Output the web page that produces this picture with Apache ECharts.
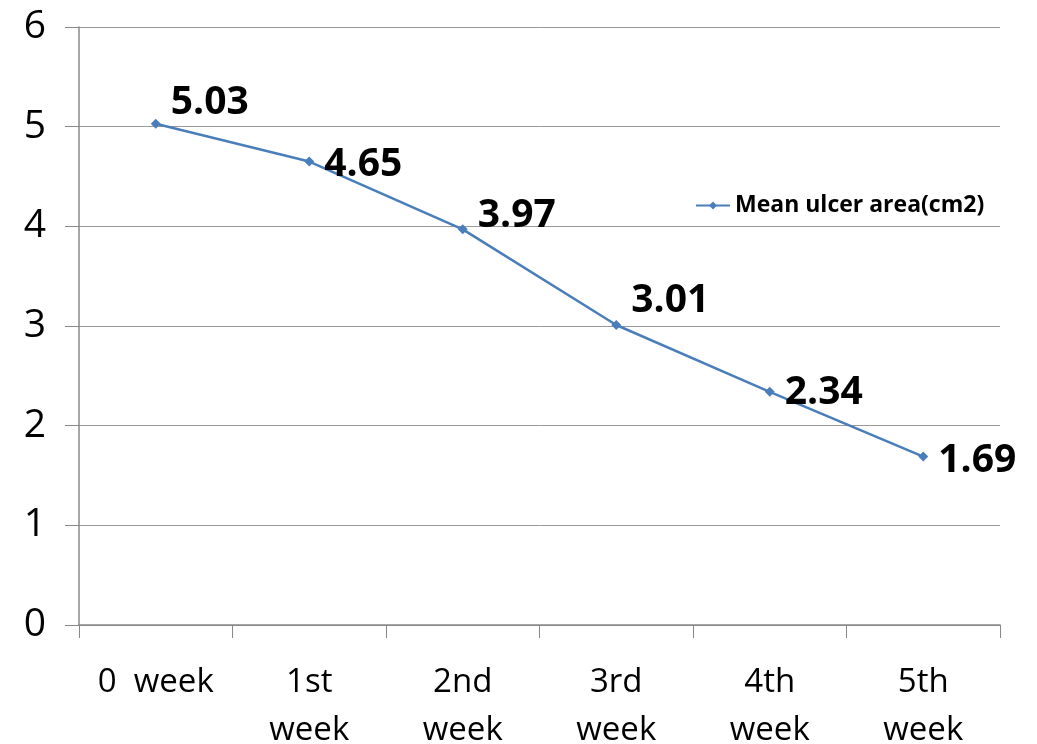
<!DOCTYPE html>
<html>
<head>
<meta charset="utf-8">
<style>
  html, body { margin: 0; padding: 0; background: #fff; }
  #main { width: 1037px; height: 744px; }
</style>
<script src="https://cdn.jsdelivr.net/npm/echarts@6/dist/echarts.min.js"></script>
</head>
<body>
<div id="main"></div>
<script>
const weeks = ['0  week', '1st\nweek', '2nd\nweek', '3rd\nweek', '4th\nweek', '5th\nweek']
const meanArea = [5.03, 4.65, 3.97, 3.01, 2.34, 1.69]
const yTicks = [0, 1, 2, 3, 4, 5, 6]

const chart = echarts.init(document.getElementById('main'))

// label offsets, roughly like the excel layout
const labelOffsets = [[-2, -21], [-2, 3], [-2, -13], [-2, -24], [-2, 1], [-2, 4]]

const option = {
  backgroundColor: '#fff',
  textStyle: { fontFamily: '"Open Sans", "Liberation Sans", sans-serif' },
  grid: { left: 79, right: 37, top: 27, bottom: 119, containLabel: false, outerBoundsMode: 'none' },
  legend: {
    data: ['Mean ulcer area(cm2)'],
    left: 690,
    top: 189,
    itemWidth: 34,
    itemHeight: 10,
    itemGap: 4,
    textStyle: { fontSize: 23, fontWeight: 'bold', color: '#000' },
  },
  xAxis: {
    type: 'category',
    data: weeks,
    boundaryGap: true,
    axisLine: { lineStyle: { color: '#888', width: 1.5 } },
    axisTick: { show: true, length: 13, lineStyle: { color: '#888' } },
    axisLabel: {
      interval: 0,
      margin: 34,
      fontSize: 33,
      lineHeight: 48,
      color: '#000',
    },
  },
  yAxis: {
    type: 'value',
    min: yTicks[0],
    max: yTicks[yTicks.length - 1],
    interval: 1,
    axisLine: { show: true, lineStyle: { color: '#888', width: 1.5 } },
    axisTick: { show: true, length: 14, lineStyle: { color: '#888' } },
    axisLabel: { fontSize: 39, color: '#000', margin: 33 },
    splitLine: { lineStyle: { color: '#999', width: 1 } },
  },
  series: [
    {
      name: 'Mean ulcer area(cm2)',
      type: 'line',
      data: meanArea.map((v, i) => ({
        value: v,
        label: { offset: labelOffsets[i] },
      })),
      symbol: 'diamond',
      symbolSize: 10,
      lineStyle: { color: '#4A7EBB', width: 2.5 },
      itemStyle: { color: '#4A7EBB' },
      label: {
        show: true,
        position: 'right',
        distance: 12,
        fontSize: 39,
        fontWeight: 'bold',
        color: '#000',
        formatter: (p) => p.value.toFixed(2),
      },
    },
  ],
}
chart.setOption(option)
</script>
</body>
</html>
